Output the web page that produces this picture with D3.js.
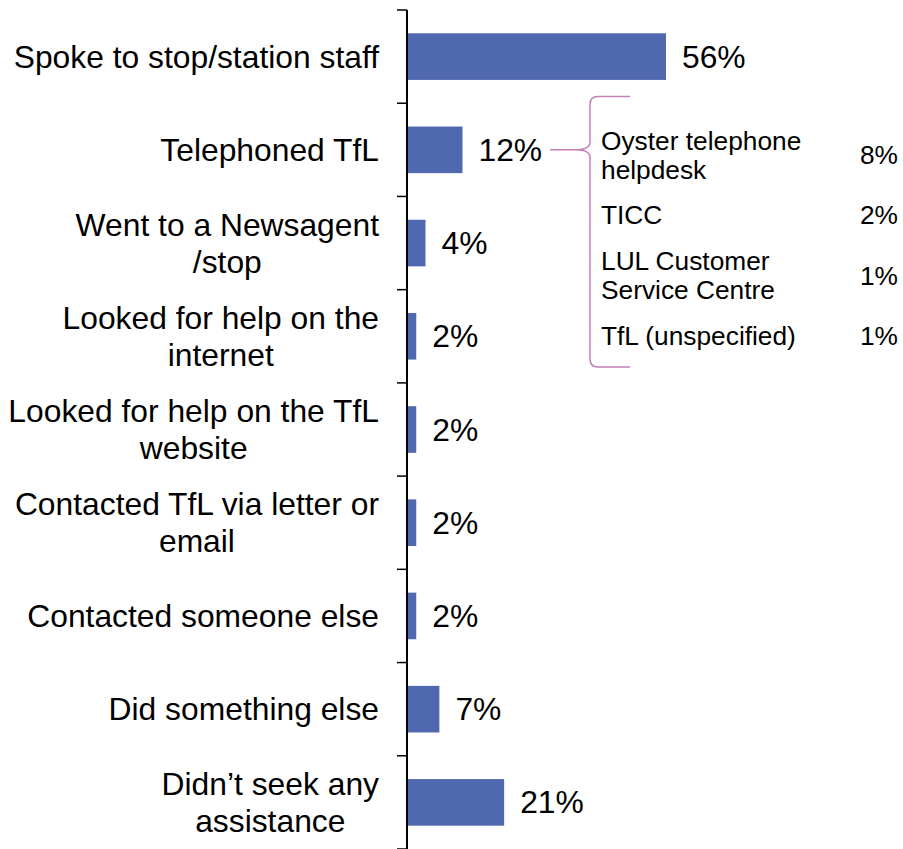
<!DOCTYPE html>
<html><head><meta charset="utf-8">
<script src="https://cdn.jsdelivr.net/npm/d3@7"></script>
<style>
html,body{margin:0;padding:0;background:#fff;}
text{font-family:Arial,"Liberation Sans",sans-serif;fill:#000;}
</style></head>
<body>
<svg id="chart" width="903" height="849"></svg>
<script>
const categories = [
  ["Spoke to stop/station staff"],
  ["Telephoned TfL"],
  ["Went to a Newsagent", "/stop"],
  ["Looked for help on the", "internet"],
  ["Looked for help on the TfL", "website"],
  ["Contacted TfL via letter or", "email"],
  ["Contacted someone else"],
  ["Did something else"],
  ["Didn\u2019t seek any", "assistance"]
];
const values = [56, 12, 4, 2, 2, 2, 2, 7, 21];
const subCategories = [
  ["Oyster telephone", "helpdesk"],
  ["TICC"],
  ["LUL Customer", "Service Centre"],
  ["TfL (unspecified)"]
];
const subValues = [8, 2, 1, 1];

const svg = d3.select("#chart");
const axisX = 407;
const keys = categories.map((c, i) => i);
const y = d3.scaleBand().domain(keys).range([10, 849]).paddingInner(0.5).paddingOuter(0.25);
const x = d3.scaleLinear().domain([0, 100]).range([axisX, axisX + 462.5]);
const step = y.step();

// bars
svg.append("g").selectAll("rect").data(values).join("rect")
  .attr("x", x(0))
  .attr("y", (d, i) => y(i))
  .attr("width", d => x(d) - x(0))
  .attr("height", y.bandwidth())
  .attr("fill", "#5068b0");

// axis line and ticks
const ticks = keys.map(i => y(i) - step * 0.25).concat([849]);
svg.append("line").attr("x1", axisX).attr("x2", axisX).attr("y1", 10).attr("y2", 849)
  .attr("stroke", "#000").attr("stroke-width", 2);
svg.append("g").selectAll("line").data(ticks).join("line")
  .attr("x1", axisX - 10).attr("x2", axisX).attr("y1", d => d).attr("y2", d => d)
  .attr("stroke", "#000").attr("stroke-width", 1.5);

// category labels (block right-aligned at 379, lines centred within block)
const fs = 31.8, lh = 37;
const labelRight = 379;
const lab = svg.append("g").selectAll("text").data(categories).join("text")
  .attr("text-anchor", "middle")
  .attr("font-size", fs);
lab.each(function(lines, i) {
  const cy = y(i) + y.bandwidth() / 2;
  const t = d3.select(this);
  const n = lines.length;
  const spans = lines.map((l, k) => t.append("tspan")
      .attr("y", cy + 11 + (k - (n - 1) / 2) * lh)
      .text(l));
  const maxW = d3.max(spans, s => s.node().getComputedTextLength());
  spans.forEach(s => s.attr("x", labelRight - maxW / 2));
});

// value labels
svg.append("g").selectAll("text").data(values).join("text")
  .attr("x", d => x(d) + 16)
  .attr("y", (d, i) => y(i) + y.bandwidth() / 2 + 11)
  .attr("font-size", fs)
  .text(d => d + "%");

// sub breakdown
const sy = d3.scalePoint().domain(subCategories.map((d, i) => i)).range([164, 345]);
const sfs = 26.3;
svg.append("g").selectAll("text").data(subCategories).join("text")
  .attr("font-size", sfs)
  .each(function(lines, i) {
    const t = d3.select(this);
    const n = lines.length;
    lines.forEach((l, k) => {
      t.append("tspan").attr("x", 601)
        .attr("y", sy(i) + (k - (n - 1) / 2) * 29)
        .text(l);
    });
  });
svg.append("g").selectAll("text").data(subValues).join("text")
  .attr("font-size", sfs)
  .attr("text-anchor", "end")
  .attr("x", 898)
  .attr("y", (d, i) => sy(i))
  .text(d => d + "%");

// curly brace connecting Telephoned TfL to breakdown
const tipY = y(1) + y.bandwidth() / 2;
const bx = 590, braceTop = 96.5, braceBot = 367;
const path = d3.path();
path.moveTo(630, braceTop);
path.lineTo(bx + 8, braceTop);
path.quadraticCurveTo(bx, braceTop, bx, braceTop + 8);
path.lineTo(bx, tipY - 8);
path.quadraticCurveTo(bx, tipY, bx - 14, tipY);
path.lineTo(550, tipY);
path.moveTo(bx - 14, tipY);
path.quadraticCurveTo(bx, tipY, bx, tipY + 8);
path.lineTo(bx, braceBot - 8);
path.quadraticCurveTo(bx, braceBot, bx + 8, braceBot);
path.lineTo(630, braceBot);
svg.append("path").attr("d", path.toString())
  .attr("fill", "none").attr("stroke", "#c47fb6").attr("stroke-width", 1.5);
</script>
</body></html>
